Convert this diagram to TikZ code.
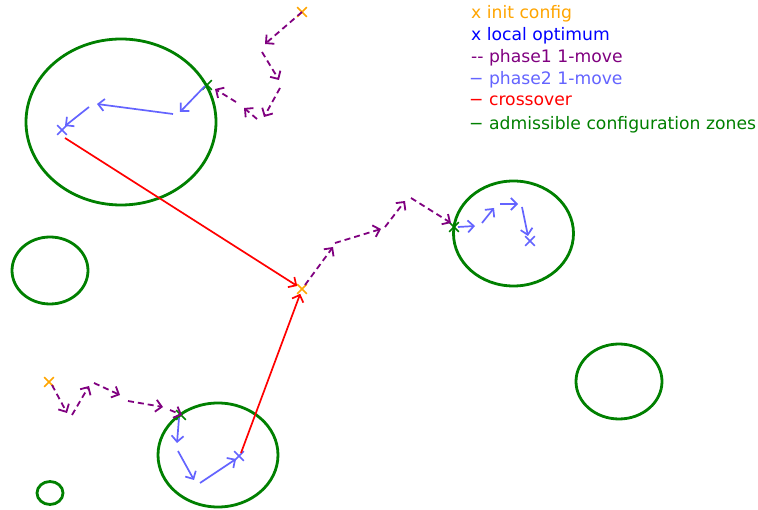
\documentclass[tikz,border=0pt]{standalone}
\usepackage{fontspec}
\setmainfont{DejaVu Sans}
\usetikzlibrary{arrows.meta,shapes.misc}
\definecolor{orng}{RGB}{255,165,0}
\definecolor{purp}{RGB}{128,0,128}
\definecolor{lblue}{RGB}{100,100,255}
\definecolor{grn}{RGB}{0,128,0}
\tikzset{
  zone/.style={draw=grn, line width=2.8pt},
  ph1/.style={draw=purp, line width=1.8pt, dash pattern=on 6pt off 4pt, -{Straight Barb[length=6pt,width=12pt,line width=1.8pt]}},
  ph2/.style={draw=lblue, line width=1.7pt, -{Straight Barb[length=6pt,width=12pt,line width=1.7pt]}},
  xover/.style={draw=red, line width=1.7pt, -{Straight Barb[length=6pt,width=12pt,line width=1.7pt]}},
  mk/.style={cross out, draw=#1, line width=1.6pt, minimum size=8pt, inner sep=0pt},
  leg/.style={anchor=base west, font=\fontsize{17.2}{20}\selectfont, inner sep=0pt},
}
\begin{document}
\begin{tikzpicture}[x=1pt,y=-1pt]
\useasboundingbox[fill=white] (0,0) rectangle (758,510);
% zones
\draw[zone] (121,122) ellipse [x radius=95, y radius=83];
\draw[zone] (50,270.5) ellipse [x radius=38, y radius=33.5];
\draw[zone] (218,455) ellipse [x radius=60, y radius=52];
\draw[zone] (513.5,233.5) ellipse [x radius=60, y radius=52.5];
\draw[zone] (619,381.5) ellipse [x radius=43, y radius=37.5];
\draw[zone] (50,493) ellipse [x radius=13, y radius=11.5];
% marks
\node[mk=orng] (i1) at (302,12) {};
\node[mk=orng] (i2) at (49,382) {};
\node[mk=orng] (i3) at (302,289) {};
\node[mk=grn] (g1) at (207,85) {};
\node[mk=grn] (g2) at (454,227) {};
\node[mk=grn] (g3) at (181,415) {};
\node[mk=lblue] (o1) at (62,130) {};
\node[mk=lblue] (o2) at (530,241) {};
\node[mk=lblue] (o3) at (239,456) {};
% path 1 (top)
\coordinate (a0) at (302,12);
\coordinate (a1) at (265,44);
\coordinate (a2) at (262,52);  \coordinate (a3) at (279,80);
\coordinate (a4) at (280,88);  \coordinate (a5) at (264,117);
\coordinate (a6) at (257,119); \coordinate (a7) at (244,108);
\coordinate (a8) at (236,102); \coordinate (a9) at (215,89);
\draw[ph1] (a0) -- (a1);
\draw[ph1] (a2) -- (a3);
\draw[ph1] (a4) -- (a5);
\draw[ph1] (a6) -- (a7);
\draw[ph1] (a8) -- (a9);
\coordinate (b0) at (205,86);  \coordinate (b1) at (180,112);
\coordinate (b2) at (173,114); \coordinate (b3) at (97,104);
\coordinate (b4) at (89,107);  \coordinate (b5) at (65,126);
\draw[ph2] (b0) -- (b1);
\draw[ph2] (b2) -- (b3);
\draw[ph2] (b4) -- (b5);
% path 2 (middle)
\coordinate (c0) at (305,285); \coordinate (c1) at (333,247);
\coordinate (c2) at (335,243); \coordinate (c3) at (381,229);
\coordinate (c4) at (385,227); \coordinate (c5) at (405,201);
\coordinate (c6) at (411,198); \coordinate (c7) at (451,223);
\draw[ph1] (c0) -- (c1);
\draw[ph1] (c2) -- (c3);
\draw[ph1] (c4) -- (c5);
\draw[ph1] (c6) -- (c7);
\coordinate (d0) at (458,227); \coordinate (d1) at (475,226);
\coordinate (d2) at (482,223); \coordinate (d3) at (494,208);
\coordinate (d4) at (500,204); \coordinate (d5) at (518,204);
\coordinate (d6) at (522,207); \coordinate (d7) at (528,236);
\draw[ph2] (d0) -- (d1);
\draw[ph2] (d2) -- (d3);
\draw[ph2] (d4) -- (d5);
\draw[ph2] (d6) -- (d7);
% path 3 (bottom)
\coordinate (e0) at (52,385);  \coordinate (e1) at (67,413);
\coordinate (e2) at (72,415);  \coordinate (e3) at (89,386);
\coordinate (e4) at (94,383);  \coordinate (e5) at (120,395);
\coordinate (e6) at (128,401); \coordinate (e7) at (163,407);
\coordinate (e8) at (170,410); \coordinate (e9) at (182,415);
\draw[ph1] (e0) -- (e1);
\draw[ph1] (e2) -- (e3);
\draw[ph1] (e4) -- (e5);
\draw[ph1] (e6) -- (e7);
\draw[ph1] (e8) -- (e9);
\coordinate (f0) at (179,418); \coordinate (f1) at (177,443);
\coordinate (f2) at (178,451); \coordinate (f3) at (194,480);
\coordinate (f4) at (200,483); \coordinate (f5) at (236,459);
\draw[ph2] (f0) -- (f1);
\draw[ph2] (f2) -- (f3);
\draw[ph2] (f4) -- (f5);
% crossovers
\coordinate (r0) at (65,138);
\coordinate (r1) at (241,453);
\draw[xover] (r0) -- (i3);
\draw[xover] (r1) -- (i3);
% legend
\node[leg, text=orng] (l1) at (471,18.5) {x init config};
\node[leg, text=blue] (l2) at (471,40.5) {x local optimum};
\node[leg, text=purp] (l3) at (471,62.5) {-{}- phase1 1-move};
\node[leg, text=lblue] (l4) at (469,84.5) {− phase2 1-move};
\node[leg, text=red] (l5) at (469,106) {− crossover};
\node[leg, text=grn] (l6) at (469,129.5) {− admissible configuration zones};
\end{tikzpicture}
\end{document}
